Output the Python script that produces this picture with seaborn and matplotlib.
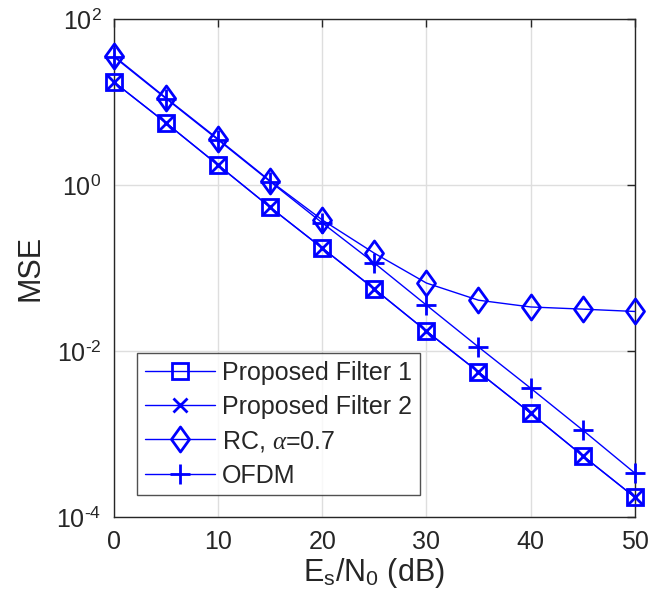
import numpy as np
import pandas as pd
import matplotlib
matplotlib.use("Agg")
import matplotlib.pyplot as plt
import seaborn as sns
from matplotlib.path import Path
from matplotlib.ticker import NullLocator, FixedLocator, FixedFormatter

snr = [0, 5, 10, 15, 20, 25, 30, 35, 40, 45, 50]
filter1 = [17.4, 5.6, 1.74, 0.54, 0.174, 0.056, 0.0174, 0.0056, 0.00179, 0.00055, 0.000174]
filter2 = [17.4, 5.6, 1.74, 0.54, 0.174, 0.056, 0.0174, 0.0056, 0.00179, 0.00055, 0.000174]
rc = [35.8, 11.2, 3.58, 1.12, 0.38, 0.151, 0.066, 0.041, 0.034, 0.032, 0.030]
ofdm = [35.0, 11.0, 3.5, 1.1, 0.35, 0.115, 0.0358, 0.0112, 0.00358, 0.00112, 0.00034]
labels = ["Proposed Filter 1", "Proposed Filter 2", r"RC, $\mathit{\alpha}$=0.7", "OFDM"]
yticks = [1e-4, 1e-2, 1e0, 1e2]
ytick_labels = [r"10$^{\text{-4}}$", r"10$^{\text{-2}}$", r"10$^{\text{0}}$", r"10$^{\text{2}}$"]

sns.set_theme(style="white")
plt.rcParams["font.family"] = ["Liberation Sans", "DejaVu Sans"]
plt.rcParams["mathtext.fontset"] = "custom"
plt.rcParams["mathtext.rm"] = "Liberation Sans"
plt.rcParams["mathtext.it"] = "Liberation Serif:italic"
plt.rcParams["axes.unicode_minus"] = False

fig = plt.figure(figsize=(6.51, 6.12), dpi=100)
ax = fig.add_axes([0.175, 0.155, 0.8, 0.814])

blue = (0, 0, 1)
dark = (0.15, 0.15, 0.15)
diamond = Path([(0, 1), (0.72, 0), (0, -1), (-0.72, 0), (0, 1)],
               [Path.MOVETO, Path.LINETO, Path.LINETO, Path.LINETO, Path.CLOSEPOLY])

series = [
    (filter1, labels[0], dict(marker="s", markersize=11, mfc="none", mew=2.0)),
    (filter2, labels[1], dict(marker="x", markersize=10, mew=2.0)),
    (rc, labels[2], dict(marker=diamond, markersize=18, mfc="none", mew=2.0)),
    (ofdm, labels[3], dict(marker="+", markersize=15, mew=2.0)),
]
for vals, lab, kw in series:
    df = pd.DataFrame({"snr": snr, "mse": vals})
    sns.lineplot(data=df, x="snr", y="mse", ax=ax, color=blue, linewidth=1.0,
                 mec=blue, label=lab, clip_on=False, zorder=3, **kw)

ax.set_yscale("log")
ax.set_xlim(0, 50)
ax.set_ylim(1e-4, 1e2)
ax.xaxis.set_major_locator(FixedLocator([0, 10, 20, 30, 40, 50]))
ax.yaxis.set_major_locator(FixedLocator(yticks))
ax.yaxis.set_major_formatter(FixedFormatter(ytick_labels))
ax.yaxis.set_minor_locator(NullLocator())
ax.grid(True, which="major", color=(0.87, 0.87, 0.87), linewidth=1.0)
ax.set_axisbelow(True)
for s in ax.spines.values():
    s.set_color(dark)
    s.set_linewidth(1.0)
ax.tick_params(direction="in", top=True, right=True, length=6, width=1.0,
               labelsize=18, colors=dark, pad=9)
ax.set_xlabel(r"E$_\mathrm{s}$/N$_\mathrm{0}$ (dB)", fontsize=22, color=dark, labelpad=2)
ax.set_ylabel("MSE", fontsize=22, color=dark, labelpad=8)

leg = ax.legend(loc="lower left", bbox_to_anchor=(0.045, 0.044), fontsize=18,
                frameon=True, fancybox=False, edgecolor=dark,
                handlelength=2.8, handletextpad=0.3, borderpad=0.3, labelspacing=0.4,
                borderaxespad=0)
leg.get_frame().set_linewidth(1.0)

fig.savefig("out.png", dpi=100)
